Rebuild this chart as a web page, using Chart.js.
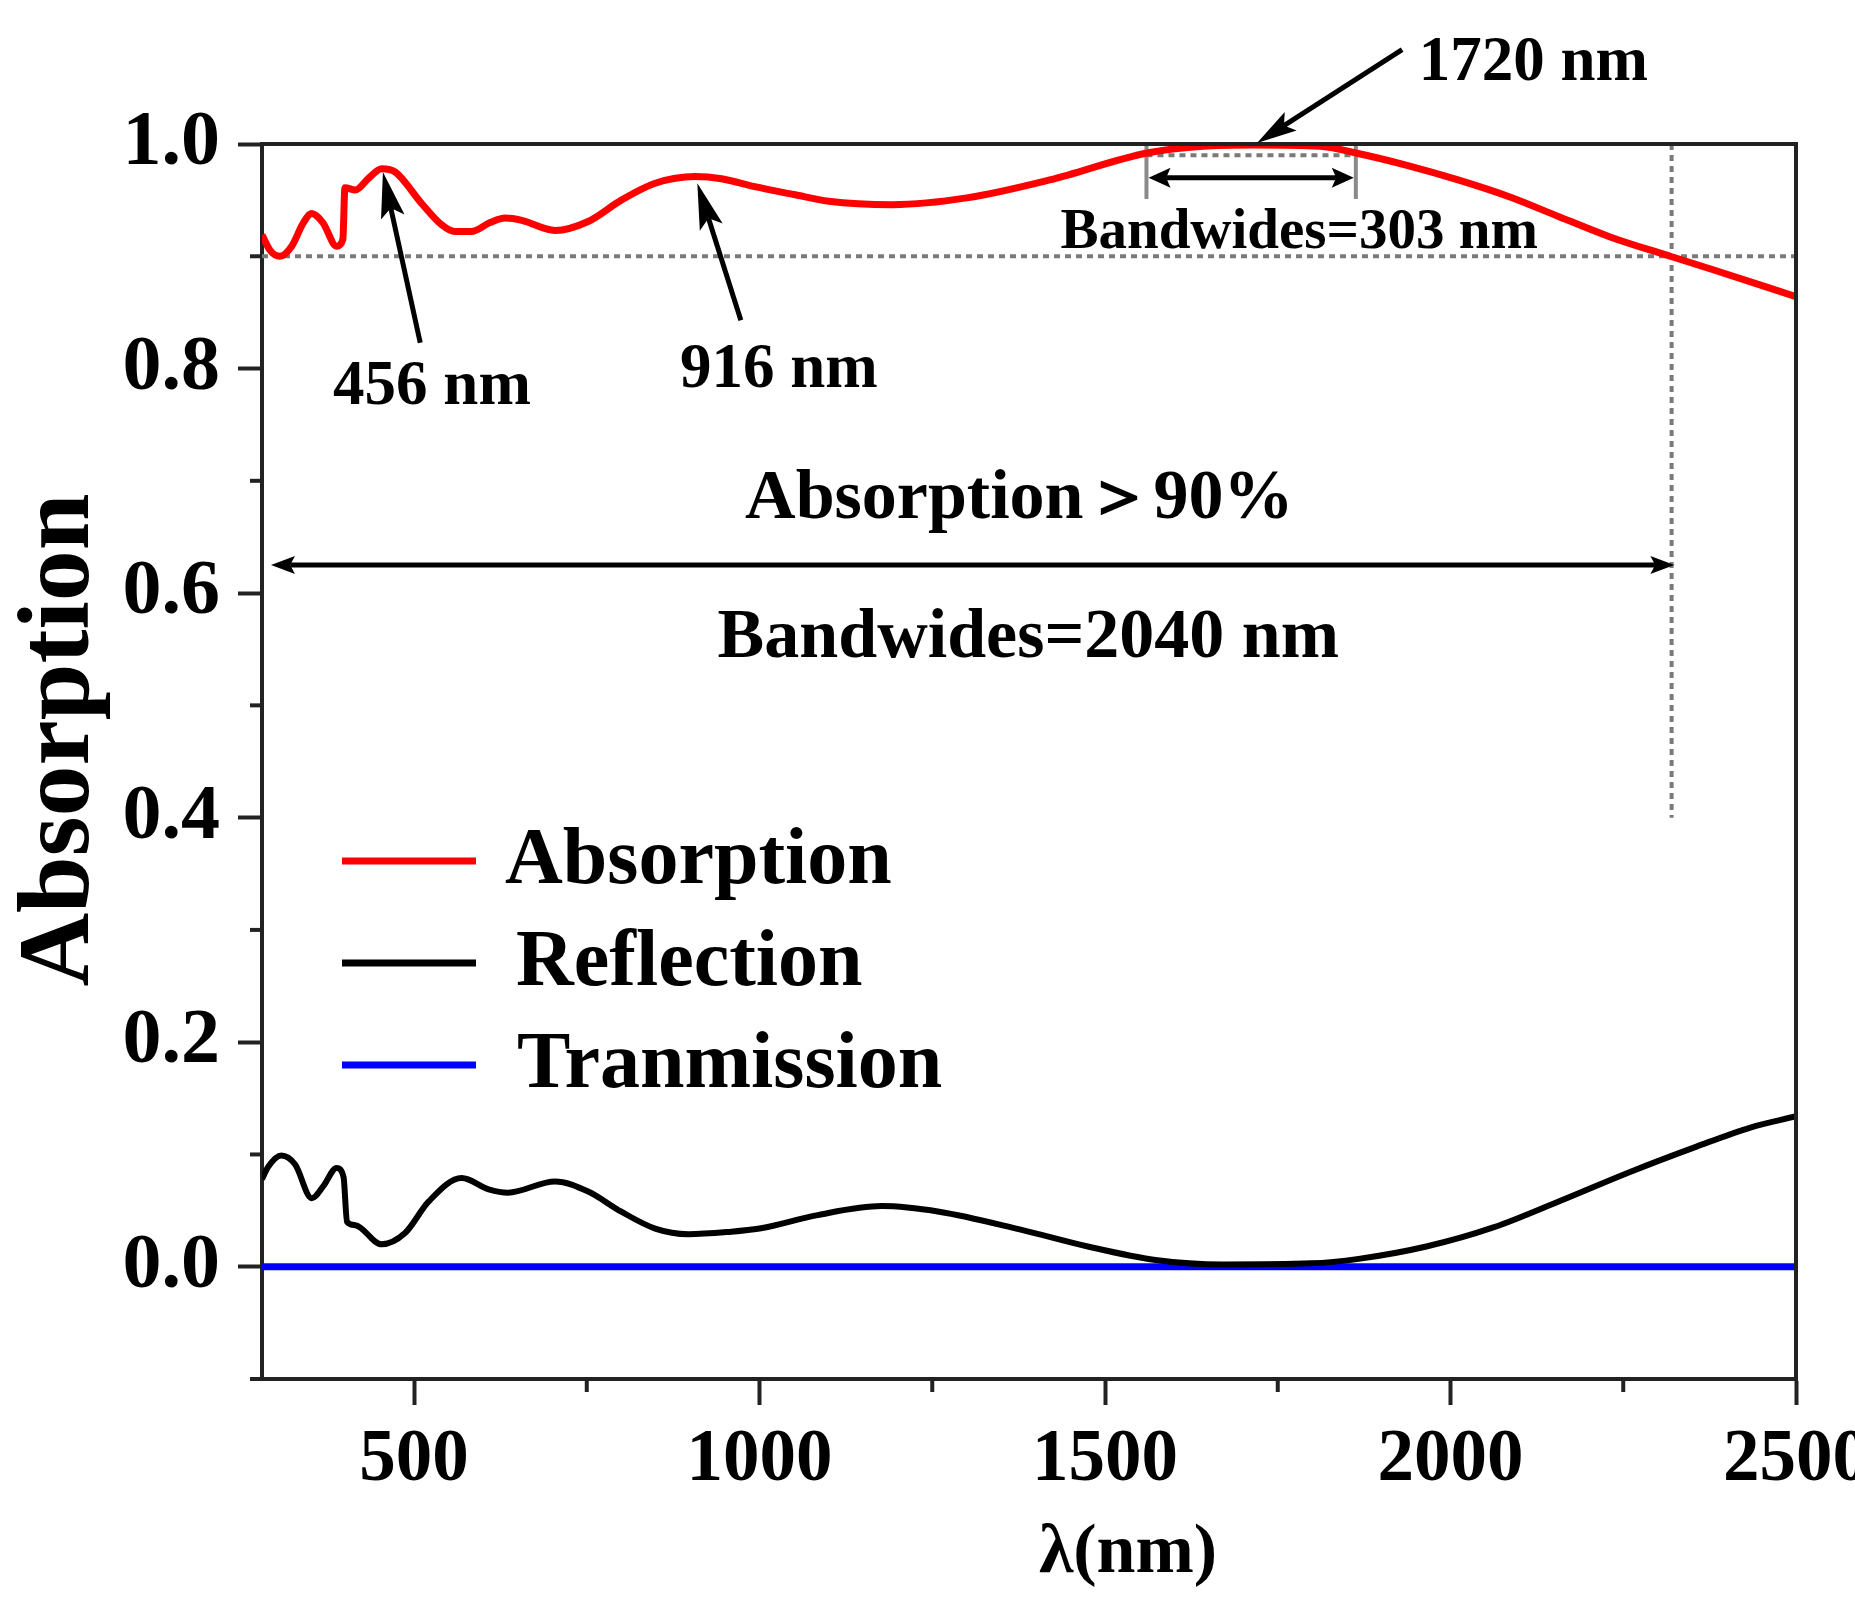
<!DOCTYPE html>
<html>
<head>
<meta charset="utf-8">
<script src="https://cdn.jsdelivr.net/npm/chart.js@4.4.1/dist/chart.umd.min.js"></script>
<style>
  body { margin: 0; background: #fff; }
</style>
</head>
<body>
<canvas id="my-chart" width="1855" height="1604"></canvas>
<script>
"use strict";

// wavelength (nm) and values
const absorptionNm = [280, 292, 306, 323, 340, 352, 368, 388, 397, 400, 415, 435, 453, 473, 511, 540, 559, 583, 610, 632, 656, 704, 752, 800, 849, 907, 945, 993, 1050, 1100, 1192, 1300, 1420, 1561, 1642, 1716, 1811, 1863, 1937, 2011, 2085, 2158, 2232, 2318, 2380, 2500];
const absorptionVal = [0.919, 0.905, 0.900, 0.909, 0.930, 0.938, 0.930, 0.909, 0.915, 0.961, 0.959, 0.970, 0.978, 0.975, 0.947, 0.928, 0.922, 0.922, 0.930, 0.934, 0.932, 0.923, 0.931, 0.950, 0.965, 0.971, 0.969, 0.962, 0.955, 0.949, 0.946, 0.952, 0.968, 0.992, 0.998, 0.999, 0.998, 0.992, 0.981, 0.968, 0.953, 0.935, 0.917, 0.900, 0.888, 0.864];

const reflectionNm = [280, 289, 308, 328, 352, 369, 388, 398, 403, 415, 453, 487, 521, 569, 608, 636, 704, 752, 800, 849, 897, 955, 1000, 1084, 1177, 1260, 1378, 1475, 1573, 1671, 1798, 1867, 1965, 2062, 2160, 2258, 2356, 2434, 2500];
const reflectionVal = [0.078, 0.089, 0.099, 0.091, 0.061, 0.072, 0.088, 0.080, 0.040, 0.037, 0.020, 0.030, 0.058, 0.079, 0.069, 0.066, 0.076, 0.067, 0.049, 0.034, 0.029, 0.031, 0.034, 0.046, 0.054, 0.049, 0.033, 0.018, 0.006, 0.002, 0.003, 0.007, 0.018, 0.035, 0.059, 0.084, 0.107, 0.124, 0.134];

const transmissionNm = [280, 2500];
const transmissionVal = [0, 0];

const seriesLabels = ["Absorption", "Reflection", "Tranmission"];

const xTickLabels = [500, 1000, 1500, 2000, 2500];
const yTickLabels = ["0.0", "0.2", "0.4", "0.6", "0.8", "1.0"];

// annotation values
const peakNm = [456, 916, 1720];
const threshold = 0.9;
const wideBand = [280, 2320];
const narrowBand = [1560, 1863];

const FONT = '"Liberation Serif", "Times New Roman", serif';

function toPoints(xs, ys) {
  const pts = [];
  for (let i = 0; i < xs.length; i++) {
    pts.push({ x: xs[i], y: ys[i] });
  }
  return pts;
}

function arrowHead(ctx, fx, fy, tx, ty, len, half) {
  const a = Math.atan2(ty - fy, tx - fx);
  const c = Math.cos(a);
  const s = Math.sin(a);
  ctx.beginPath();
  ctx.moveTo(tx, ty);
  ctx.lineTo(tx - len * c + half * s, ty - len * s - half * c);
  ctx.lineTo(tx - len * 0.8 * c, ty - len * 0.8 * s);
  ctx.lineTo(tx - len * c - half * s, ty - len * s + half * c);
  ctx.closePath();
  ctx.fill();
}

// line with a head at the tip (and at the tail if both is true)
function arrow(ctx, x1, y1, x2, y2, len, half, width, both) {
  const a = Math.atan2(y2 - y1, x2 - x1);
  const c = Math.cos(a);
  const s = Math.sin(a);
  const back = len * 0.8;
  ctx.lineWidth = width;
  ctx.beginPath();
  ctx.moveTo(both ? x1 + back * c : x1, both ? y1 + back * s : y1);
  ctx.lineTo(x2 - back * c, y2 - back * s);
  ctx.stroke();
  arrowHead(ctx, x1, y1, x2, y2, len, half);
  if (both) {
    arrowHead(ctx, x2, y2, x1, y1, len, half);
  }
}

function text(ctx, str, x, y, size) {
  ctx.font = "bold " + size + "px " + FONT;
  ctx.fillText(str, x, y);
}

const annotationPlugin = {
  id: "annotations",
  beforeDatasetsDraw(chart) {
    const ctx = chart.ctx;
    const xs = chart.scales.x;
    const ys = chart.scales.y;
    ctx.save();
    ctx.strokeStyle = "#7a7a7a";
    ctx.lineWidth = 4;
    ctx.setLineDash([6, 5]);
    // 90% threshold
    ctx.beginPath();
    ctx.moveTo(xs.getPixelForValue(xs.min), ys.getPixelForValue(threshold));
    ctx.lineTo(xs.getPixelForValue(xs.max), ys.getPixelForValue(threshold));
    ctx.stroke();
    // end of the >90% band
    ctx.beginPath();
    ctx.moveTo(xs.getPixelForValue(wideBand[1]), ys.getPixelForValue(1.0));
    ctx.lineTo(xs.getPixelForValue(wideBand[1]), ys.getPixelForValue(0.4));
    ctx.stroke();
    // 99% line across the narrow band
    ctx.beginPath();
    ctx.moveTo(xs.getPixelForValue(narrowBand[0]), ys.getPixelForValue(0.99));
    ctx.lineTo(xs.getPixelForValue(narrowBand[1]), ys.getPixelForValue(0.99));
    ctx.stroke();
    ctx.setLineDash([]);
    // brackets of the narrow band
    ctx.strokeStyle = "#8a8a8a";
    for (let i = 0; i < narrowBand.length; i++) {
      ctx.beginPath();
      ctx.moveTo(xs.getPixelForValue(narrowBand[i]), ys.getPixelForValue(1.0));
      ctx.lineTo(xs.getPixelForValue(narrowBand[i]), ys.getPixelForValue(0.951));
      ctx.stroke();
    }
    ctx.restore();
  },
  afterDraw(chart) {
    const ctx = chart.ctx;
    const xs = chart.scales.x;
    const ys = chart.scales.y;
    const area = chart.chartArea;
    const px = (v) => xs.getPixelForValue(v);
    const py = (v) => ys.getPixelForValue(v);
    ctx.save();

    // frame top and right
    ctx.strokeStyle = "#222";
    ctx.lineWidth = 4;
    ctx.beginPath();
    ctx.moveTo(area.left - 2, area.top);
    ctx.lineTo(area.right, area.top);
    ctx.lineTo(area.right, area.bottom + 2);
    ctx.stroke();

    // minor ticks
    ctx.lineWidth = 4;
    for (let v = 750; v < xs.max; v += 500) {
      ctx.beginPath();
      ctx.moveTo(px(v), area.bottom);
      ctx.lineTo(px(v), area.bottom + 13);
      ctx.stroke();
    }
    for (let k = -1; k < 10; k += 2) {
      ctx.beginPath();
      ctx.moveTo(area.left, py(k / 10));
      ctx.lineTo(area.left - 12, py(k / 10));
      ctx.stroke();
    }

    // arrows
    ctx.strokeStyle = "#000";
    ctx.fillStyle = "#000";
    arrow(ctx, px(narrowBand[0] + 3), py(0.97), px(narrowBand[1] - 3), py(0.97), 22, 10, 5, true);
    arrow(ctx, px(wideBand[0] + 13), py(0.625), px(wideBand[1] + 4), py(0.625), 24, 9, 5, true);
    arrow(ctx, px(509), py(0.823), px(peakNm[0] - 1), py(0.975), 46, 12, 5, false);
    arrow(ctx, px(973), py(0.843), px(peakNm[1] - 6), py(0.965), 46, 12, 5, false);
    arrow(ctx, px(1930), py(1.084), px(peakNm[2]), py(1.001), 40, 11, 5, false);

    // labels
    ctx.textAlign = "center";
    ctx.textBaseline = "alphabetic";
    text(ctx, peakNm[0] + " nm", px(526), py(0.768), 63);
    text(ctx, peakNm[1] + " nm", px(1028), py(0.784), 63);
    text(ctx, peakNm[2] + " nm", px(2120), py(1.057), 63);
    text(ctx, "Bandwides=" + (narrowBand[1] - narrowBand[0]) + " nm", px(1781), py(0.907), 57);
    text(ctx, "Absorption\uFF1E90%", px(1376), py(0.667), 70);
    text(ctx, "Bandwides=" + (wideBand[1] - wideBand[0]) + " nm", px(1389), py(0.543), 70);

    // legend
    const legendY = [861, 963, 1065];
    const legendTextX = [505, 516, 517];
    ctx.textAlign = "left";
    chart.data.datasets.forEach((ds, i) => {
      ctx.strokeStyle = ds.borderColor;
      ctx.lineWidth = 7;
      ctx.beginPath();
      ctx.moveTo(342, legendY[i]);
      ctx.lineTo(476, legendY[i]);
      ctx.stroke();
      ctx.fillStyle = "#000";
      text(ctx, ds.label, legendTextX[i], legendY[i] + 22, 80);
    });

    // axis titles
    ctx.textAlign = "center";
    text(ctx, "\u03BB(nm)", 1128, 1572, 70);
    ctx.translate(88, 740);
    ctx.rotate(-Math.PI / 2);
    text(ctx, "Absorption", 0, 0, 102);
    ctx.restore();
  },
};

const ctx = document.getElementById("my-chart");

const myChart = new Chart(ctx, {
  type: "line",
  data: {
    datasets: [
      {
        label: seriesLabels[0],
        data: toPoints(absorptionNm, absorptionVal),
        borderColor: "#ff0000",
        borderWidth: 7,
        pointRadius: 0,
        cubicInterpolationMode: "monotone",
      },
      {
        label: seriesLabels[1],
        data: toPoints(reflectionNm, reflectionVal),
        borderColor: "#000000",
        borderWidth: 6,
        pointRadius: 0,
        cubicInterpolationMode: "monotone",
      },
      {
        label: seriesLabels[2],
        data: toPoints(transmissionNm, transmissionVal),
        borderColor: "#0000ff",
        borderWidth: 7,
        pointRadius: 0,
      },
    ],
  },
  options: {
    responsive: false,
    animation: false,
    devicePixelRatio: 1,
    layout: {
      padding: { top: 144, right: 59, left: 0, bottom: 0 },
      autoPadding: false,
    },
    plugins: {
      legend: { display: false },
      title: { display: false },
      tooltip: { enabled: false },
    },
    scales: {
      x: {
        type: "linear",
        bounds: "data",
        min: 280,
        max: 2500,
        afterBuildTicks: (s) => {
          const ticks = [];
          for (let v = 500; v <= 2500; v += 250) ticks.push({ value: v });
          s.ticks = ticks;
        },
        afterFit: (s) => {
          s.height = 225;
          s.paddingLeft = 0;
          s.paddingRight = 0;
        },
        border: { display: true, color: "#222", width: 4 },
        grid: {
          drawOnChartArea: false,
          tickLength: 26,
          tickWidth: 4,
          tickColor: (c) => (c.tick && xTickLabels.includes(c.tick.value) ? "#222" : "rgba(0,0,0,0)"),
        },
        ticks: {
          autoSkip: false,
          maxRotation: 0,
          padding: 12,
          color: "#000",
          font: { family: FONT, size: 73, weight: "bold" },
          callback: (v) => (xTickLabels.includes(v) ? String(v) : ""),
        },
      },
      y: {
        type: "linear",
        bounds: "data",
        min: -0.1,
        max: 1.0,
        afterFit: (s) => {
          s.width = 262;
          s.paddingTop = 0;
          s.paddingBottom = 0;
        },
        border: { display: true, color: "#222", width: 4 },
        grid: {
          drawOnChartArea: false,
          tickLength: 24,
          tickWidth: 4,
          tickColor: (c) => (c.tick && yTickLabels.includes(c.tick.value.toFixed(1)) && c.tick.value > -0.05 ? "#222" : "rgba(0,0,0,0)"),
        },
        ticks: {
          stepSize: 0.1,
          autoSkip: false,
          padding: 18,
          color: "#000",
          font: { family: FONT, size: 78, weight: "bold" },
          callback: (v) => {
            const label = v.toFixed(1);
            return Math.round(v * 10) % 2 === 0 && v > -0.05 && yTickLabels.includes(label) ? label : "";
          },
        },
      },
    },
  },
  plugins: [annotationPlugin],
});
</script>
</body>
</html>
